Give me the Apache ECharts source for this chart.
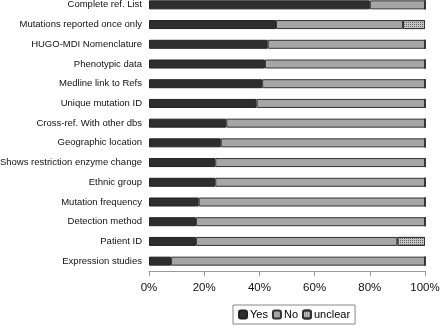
<!DOCTYPE html>
<html>
<head>
<meta charset="utf-8">
<script src="https://cdn.jsdelivr.net/npm/echarts@6/dist/echarts.min.js"></script>
<style>
  html, body { margin: 0; padding: 0; background: #fff; }
  #main { width: 440px; height: 326px; }
</style>
</head>
<body>
<div id="main"></div>
<script>
// categories, top to bottom
var categories = [
  'Complete ref. List',
  'Mutations reported once only',
  'HUGO-MDI Nomenclature',
  'Phenotypic data',
  'Medline link to Refs',
  'Unique mutation ID',
  'Cross-ref. With other dbs',
  'Geographic location',
  'Shows restriction enzyme change',
  'Ethnic group',
  'Mutation frequency',
  'Detection method',
  'Patient ID',
  'Expression studies'
];
// percentages
var yesValues     = [80, 46, 43, 42, 41, 39, 28, 26, 24, 24, 18, 17, 17, 8];
var noValues      = [20, 46, 57, 58, 59, 61, 72, 74, 76, 76, 82, 83, 73, 92];
var unclearValues = [0, 8, 0, 0, 0, 0, 0, 0, 0, 0, 0, 0, 10, 0];
var xTicks = [0, 20, 40, 60, 80, 100];

var chart = echarts.init(document.getElementById('main'), null, { renderer: 'canvas' });

var font = 'Liberation Sans, Arial, sans-serif';

var option = {
  animation: false,
  textStyle: { fontFamily: font },
  grid: { left: 149, right: 15, top: -5, bottom: 55, containLabel: false, outerBoundsMode: 'none' },
  legend: {
    data: ['Yes', 'No', 'unclear'],
    bottom: 2,
    left: 233,
    itemWidth: 8,
    itemHeight: 8,
    itemGap: 4,
    padding: [4, 5, 4, 5],
    borderColor: '#888',
    borderWidth: 1,
    textStyle: { fontSize: 11, color: '#000', fontFamily: font, padding: [0, 0, 0, -2] }
  },
  xAxis: {
    type: 'value',
    min: xTicks[0],
    max: xTicks[xTicks.length - 1],
    interval: 20,
    axisLine: { show: true, lineStyle: { color: '#999' } },
    axisTick: { show: true, length: 5, lineStyle: { color: '#999' } },
    splitLine: { show: false },
    axisLabel: { formatter: '{value}%', fontSize: 11.5, color: '#111', margin: 11 }
  },
  yAxis: {
    type: 'category',
    inverse: true,
    data: categories,
    axisLine: { show: false },
    axisTick: { show: false },
    axisLabel: { fontSize: 9.5, color: '#111', margin: 7 }
  },
  series: [
    {
      name: 'Yes', type: 'bar', stack: 'all', barWidth: 9,
      data: yesValues,
      itemStyle: { color: '#2e2e2e', borderColor: '#222', borderWidth: 1 }
    },
    {
      name: 'No', type: 'bar', stack: 'all', barWidth: 9,
      data: noValues,
      itemStyle: { color: '#a6a6a6', borderColor: '#333', borderWidth: 1 }
    },
    {
      name: 'unclear', type: 'bar', stack: 'all', barWidth: 9,
      data: unclearValues,
      itemStyle: {
        color: '#c4c4c4', borderColor: '#333', borderWidth: 1,
        decal: {
          symbol: 'rect', symbolSize: 1,
          dashArrayX: [1, 1], dashArrayY: [1, 1],
          color: '#666', rotation: 0
        }
      }
    }
  ]
};

chart.setOption(option);
</script>
</body>
</html>
